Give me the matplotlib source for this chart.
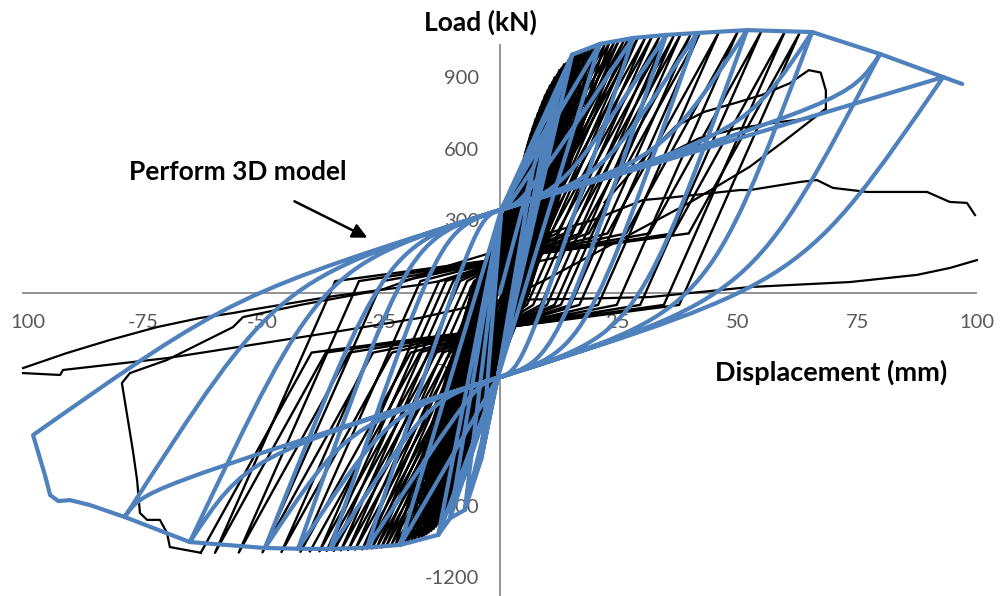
import matplotlib
matplotlib.use("Agg")
import matplotlib.pyplot as plt
from matplotlib.path import Path
from matplotlib.patches import PathPatch

plt.rcParams['font.family'] = ['Lato', 'DejaVu Sans']

# ---- Perform 3D model (blue): peaks, in mm / kN ----
blue_pos_x = [7, 10, 12.5, 15.2, 21, 28, 35, 41.5, 52, 65.7, 80, 93.3]
blue_pos_y = [525, 700, 850, 1000, 1045, 1070, 1083, 1091, 1103, 1095, 1003, 906]
blue_neg_x = [-4, -7.4, -10.5, -13, -21, -28, -35.8, -42.5, -49.5, -65.3, -79]
blue_neg_y = [-700, -910, -945, -1015, -1057, -1068, -1074, -1073, -1070, -1045, -940]
# strength loss at the far negative end
blue_tail_x = [-86.3, -90.5, -93, -94.7, -95.8, -98.3]
blue_tail_y = [-890, -869, -873, -848, -764, -596]
blue_end = (97.3, 877)
# pinch points and branch stiffnesses (kN/mm), one per cycle
pinch_pos = (0.3, 350)
pinch_neg = (-0.5, -356)
pinch_slope = 6.3
unload_k = [80, 80, 80, 70, 65, 60, 58, 56, 55, 53, 38, 29]
reload_k = [80, 80, 80, 70, 65, 60, 58, 56, 50, 42, 31, 14]
k_arrive = 30

# ---- test (black): first cycle at each amplitude ----
bk_pos_x = [1.5, 2.5, 3.5, 4.5, 5.5, 6.5, 7.5, 8.5, 9.5, 10.5, 11.5, 12.5, 13.5, 14.5, 15.5, 16.5,
            18, 19.5, 21, 23, 25, 27, 29, 32, 35, 38, 42, 46, 50, 55, 60, 63]
bk_pos_y = [180, 300, 420, 520, 600, 670, 730, 780, 830, 870, 905, 935, 960, 980, 995, 1005,
            1020, 1030, 1040, 1050, 1058, 1065, 1070, 1076, 1080, 1084, 1088, 1091, 1094, 1097, 1098, 1088]
bk_neg_x = [-1.5, -2.5, -3.5, -4.5, -5.5, -6.5, -7.5, -8.5, -9.5, -10.5, -11.5, -12.5, -13.5, -14.5, -15.5, -16.5,
            -18, -19.5, -21, -23, -25, -27, -29, -32, -35, -38, -42, -46, -50, -55, -60, -63]
bk_neg_y = [-200, -330, -450, -560, -650, -720, -780, -830, -870, -905, -935, -960, -980, -998, -1012, -1024,
            -1036, -1046, -1054, -1062, -1068, -1072, -1076, -1079, -1082, -1084, -1086, -1087, -1088, -1089, -1090, -1090]
# repeated cycles
bk2_pos_x = [2, 3, 4, 5, 6, 7, 8, 9, 10, 11, 12, 13, 14, 15, 16, 17.2, 18.7, 20.2, 22, 24, 26, 28, 30.5, 33.5, 36.5, 40]
bk2_pos_y = [230, 360, 470, 560, 635, 700, 755, 805, 850, 885, 915, 945, 965, 985, 998, 1010,
             1022, 1032, 1042, 1050, 1056, 1062, 1068, 1072, 1076, 1080]
bk2_neg_x = [-2, -3, -4, -5, -6, -7, -8, -9, -10, -11, -12, -13, -14, -15, -16, -17.2, -18.7, -20.2, -22, -24,
             -26, -28, -30.5, -33.5, -36.5, -40]
bk2_neg_y = [-260, -390, -505, -605, -685, -750, -805, -850, -888, -920, -948, -970, -990, -1005, -1018, -1030,
             -1041, -1050, -1058, -1064, -1070, -1074, -1077, -1080, -1082, -1084]

# final test branches
bk_tail_x = [-63, -69.5, -70.1, -71.6, -74.3, -75.8, -76.4, -77.3, -79.6, -77.9, -70.1, -56.2, -54.1, -42, -25,
             -10.5, 0, 10, 19.6, 30.1, 35.2, 50.5, 52.6, 63.2, 66.7, 70.1, 77.3, 89.9, 94.7, 98.3, 100]
bk_tail_y = [-1090, -1066, -1007, -952, -952, -923, -785, -659, -378, -336, -281, -143, -101, -50, 13,
             117, 180, 250, 306, 390, 399, 432, 432, 466, 474, 441, 424, 424, 382, 378, 327]
bk_left_up_x = [-100.4, -91.2, -82.1, -72.2, -63.2, -56.2, -52.6, -35, -17, 0, 12]
bk_left_up_y = [-315, -252, -197, -143, -105, -84, -71, -13, 34, 97, 150]
bk_left_low_x = [-100.4, -92.6, -92, -70, -35, -17, 0, 15, 31.6, 52.6, 73.7, 87.8, 94.7, 100.4]
bk_left_low_y = [-336, -344, -323, -273, -164, -105, -29, -25, -17, 25, 46, 76, 105, 138]
bk_tip_x = [22, 30, 37, 43, 50, 55, 61, 65, 67.5, 68.6, 68.6, 66, 58, 50, 42, 36]
bk_tip_y = [380, 560, 700, 760, 800, 830, 880, 935, 925, 850, 770, 735, 715, 690, 650, 590]
bk_tip_back_x = [68.4, 60, 52.6, 40, 28, 10, 0]
bk_tip_back_y = [770, 640, 530, 380, 252, 60, -40]

x_ticks = [-99.4, -75.2, -50, -25, 0, 24.8, 50, 75.2, 100.4]
x_tick_labels = ["100", "-75", "-50", "-25", "0", "25", "50", "75", "100"]
y_ticks = [900, 600, 300, 0, -300, -600, -900, -1200]

fig = plt.figure(figsize=(10, 5.96), dpi=100)
ax = fig.add_axes([0, 0, 1, 1])
ax.set_xlim(-105.26, 105.26)
ax.set_ylim(-1271.4, 1229.4)
ax.axis('off')

# axes crossing at the origin
ax.plot([-100.4, 100.2], [0, 0], color='#8a8a8a', lw=1.3, zorder=1)
ax.plot([0, 0], [1040, -1280], color='#8a8a8a', lw=1.3, zorder=1)

for v in y_ticks:
    ax.text(-4.4, v, str(v), ha='right', va='center', fontsize=14.5, color='#595959', zorder=0.5)
for xv, lab in zip(x_ticks, x_tick_labels):
    ax.text(xv, -124, lab, ha='center', va='center', fontsize=14.5, color='#595959', zorder=0.5)


# ---- black test loops ----
def bk_half(a, b):
    s = 1 if a[1] > 0 else -1
    x1 = a[0] + (-s * 50 - a[1]) / 45.0
    x2 = b[0] + (-s * 250 - b[1]) / 36.0
    if (s > 0 and x1 > x2) or (s < 0 and x1 < x2):
        return [(x1, -s * 50), (x2, -s * 250), b]
    x0 = s * min(abs(a[0]) * 0.45, 6.0)
    return [(x0, 0), b]


def bk_cycles(px, py, nx, ny):
    pts = [(0, 0), (px[0], py[0])]
    for i in range(len(px)):
        pts += bk_half((px[i], py[i]), (nx[i], ny[i]))
        if i + 1 < len(px):
            pts += bk_half((nx[i], ny[i]), (px[i + 1], py[i + 1]))
    return zip(*pts)


for cyc in [(bk_pos_x, bk_pos_y, bk_neg_x, bk_neg_y), (bk2_pos_x, bk2_pos_y, bk2_neg_x, bk2_neg_y)]:
    bx, by = bk_cycles(*cyc)
    ax.plot(bx, by, color='black', lw=1.7, zorder=2)
for xs, ys in [(bk_tail_x, bk_tail_y), (bk_left_up_x, bk_left_up_y), (bk_left_low_x, bk_left_low_y),
               (bk_tip_x, bk_tip_y), (bk_tip_back_x, bk_tip_back_y)]:
    ax.plot(xs, ys, color='black', lw=1.6, zorder=2)

# ---- blue model path ----
verts = [(0, 0), (blue_pos_x[0], blue_pos_y[0])]
codes = [Path.MOVETO, Path.LINETO]


def knee(pt, k, pinch):
    # steep line through pt meets the pinched branch through the pinch point
    x = (pinch[1] - pinch_slope * pinch[0] - pt[1] + k * pt[0]) / (k - pinch_slope)
    y = pinch[1] + pinch_slope * (x - pinch[0])
    ok = min(pt[0], pinch[0]) < x < max(pt[0], pinch[0])
    return (x, y), ok


def branch(a, b, pinch, ka):
    c1, ok1 = knee(a, ka, pinch)
    if ok1:
        verts.extend([c1, c1, pinch])
        codes.extend([Path.CURVE4] * 3)
    else:
        verts.append(pinch)
        codes.append(Path.LINETO)
    c2, ok2 = knee(b, k_arrive, pinch)
    if ok2:
        verts.extend([c2, c2, b])
        codes.extend([Path.CURVE4] * 3)
    else:
        verts.append(b)
        codes.append(Path.LINETO)


npk = len(blue_pos_x)
last_neg = (blue_tail_x[-1], blue_tail_y[-1])
for k in range(npk):
    a = (blue_pos_x[k], blue_pos_y[k])
    # unloading from the positive peak towards the previous negative peak
    prev = (blue_neg_x[max(k - 1, 0)], blue_neg_y[max(k - 1, 0)])
    branch(a, prev, pinch_neg, unload_k[k])
    if 0 < k < len(blue_neg_x):
        verts.append((blue_neg_x[k], blue_neg_y[k]))
        codes.append(Path.LINETO)
    elif k >= len(blue_neg_x):
        verts.extend(zip(blue_tail_x, blue_tail_y))
        codes.extend([Path.LINETO] * len(blue_tail_x))
    start = (blue_neg_x[k], blue_neg_y[k]) if k < len(blue_neg_x) else last_neg
    # reloading towards the previous positive peak
    branch(start, a, pinch_pos, reload_k[k])
    verts.append((blue_pos_x[k + 1], blue_pos_y[k + 1]) if k + 1 < npk else blue_end)
    codes.append(Path.LINETO)

ax.add_patch(PathPatch(Path(verts, codes), facecolor='none', edgecolor='#4f81bd',
                       lw=3.0, joinstyle='round', capstyle='round', zorder=3))

# ---- labels ----
ax.text(-4.2, 1137, "Load (kN)", ha='center', va='center', fontsize=19, fontweight='bold', zorder=5)
ax.text(69.7, -331, "Displacement (mm)", ha='center', va='center', fontsize=19.5, fontweight='bold', zorder=5)
ax.text(-55.2, 508, "Perform 3D model", ha='center', va='center', fontsize=19, fontweight='bold', zorder=5)
ax.annotate('', xy=(-27.4, 227), xytext=(-43.8, 390),
            arrowprops=dict(arrowstyle='-|>', color='black', lw=1.8, mutation_scale=22), zorder=5)

fig.savefig("out.png", dpi=100)
